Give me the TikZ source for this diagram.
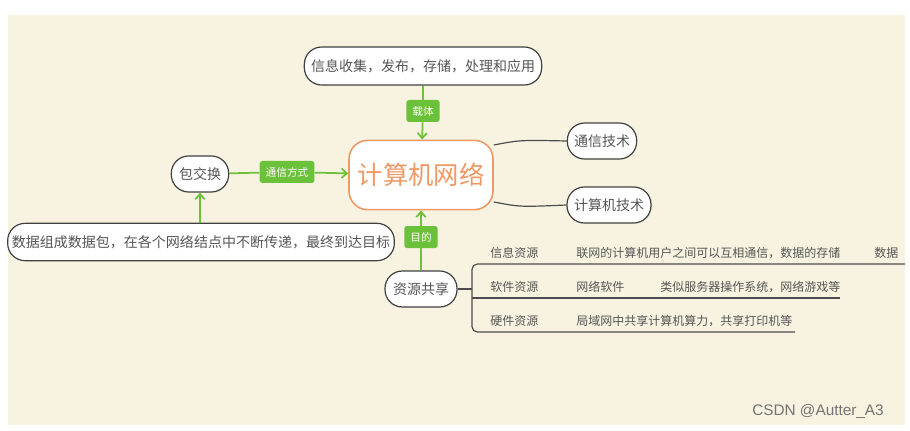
\documentclass[tikz,border=0pt]{standalone}
\usepackage{fontspec}
\newfontfamily\cjk{Noto Sans CJK SC}
\definecolor{bg}{HTML}{F8F3E0}
\definecolor{grn}{HTML}{6CC13B}
\definecolor{org}{HTML}{EE9966}
\definecolor{txt}{HTML}{555555}
\begin{document}
\begin{tikzpicture}[x=0.75pt,y=-0.75pt,
  topic/.style={draw=black!75,line width=0.9pt,fill=white,rounded corners=13pt,inner sep=0pt,text=txt,font=\cjk\fontsize{10.5}{12}\selectfont},
  lab/.style={fill=grn,rounded corners=2pt,text=white,inner sep=0pt,minimum height=16.5pt,font=\cjk\fontsize{8}{10}\selectfont},
  garr/.style={draw=grn,line width=1.3pt,->,>={Straight Barb[length=4pt,width=7pt]}},
  gl/.style={draw=grn,line width=1.3pt},
  sub/.style={text=txt,font=\cjk\fontsize{9}{10}\selectfont,anchor=west,inner sep=0pt},
  dl/.style={draw=black!70,line width=0.9pt}]
\usetikzlibrary{arrows.meta}
\fill[white] (0,0) rectangle (910,431);
\fill[bg] (8,15) rectangle (905,425);
\node[topic,minimum width=178pt,minimum height=28.5pt] (top) at (423,66) {信息收集，发布，存储，处理和应用};
\node[draw=org,line width=1.2pt,fill=white,rounded corners=14pt,minimum width=108pt,minimum height=52pt,text=org,font=\cjk\fontsize{19}{22}\selectfont,inner sep=0pt] (c) at (421,175) {计算机网络};
\node[topic,minimum width=52pt,minimum height=27pt] (t1) at (602,141) {通信技术};
\node[topic,minimum width=63pt,minimum height=27pt] (t2) at (609,205) {计算机技术};
\node[topic,minimum width=43pt,minimum height=27pt] (p) at (200,174) {包交换};
\node[topic,minimum width=290pt,minimum height=28pt] (l) at (201,242) {数据组成数据包，在各个网络结点中不断传递，最终到达目标};
\node[topic,minimum width=54pt,minimum height=27pt] (r) at (421,289) {资源共享};
\node[lab,minimum width=25pt] (z) at (423,111) {载体};
\node[lab,minimum width=41pt] (w) at (287,172) {通信方式};
\node[lab,minimum width=25pt] (m) at (421,237) {目的};
\draw[gl] (top) -- (z); \draw[garr] (z) -- (c);
\draw[gl] (p) -- (w); \draw[garr] (w) -- (c);
\draw[gl] (r) -- (m); \draw[garr] (m) -- (c);
\draw[garr] (l.north -| p) -- (p);
\draw[dl] (c.east |- 0,145) .. controls (520,140) .. (t1.west);
\draw[dl] (c.east |- 0,202) .. controls (520,207) .. (t2.west);
\coordinate (b0) at (472,289);
\draw[dl] (r.east) -- (b0);
\draw[dl,rounded corners=4pt] (905,264) -- (472,264) -- (472,332) -- (795,332);
\draw[dl] (472,298) -- (840,298);
\node[sub] (a1) at (490,253) {信息资源};
\node[sub] (a2) at (576,253) {联网的计算机用户之间可以互相通信，数据的存储};
\node[sub] (a3) at (874,253) {数据};
\node[sub] (b1) at (490,287) {软件资源};
\node[sub] (b2) at (576,287) {网络软件};
\node[sub] (b3) at (660,287) {类似服务器操作系统，网络游戏等};
\node[sub] (c1) at (490,321) {硬件资源};
\node[sub] (c2) at (576,321) {局域网中共享计算机算力，共享打印机等};
\node[text=black!55,font=\fontspec{Liberation Sans}\fontsize{11.5}{13}\selectfont] (wm) at (818,411) {CSDN @Autter\_A3};
\end{tikzpicture}
\end{document}
